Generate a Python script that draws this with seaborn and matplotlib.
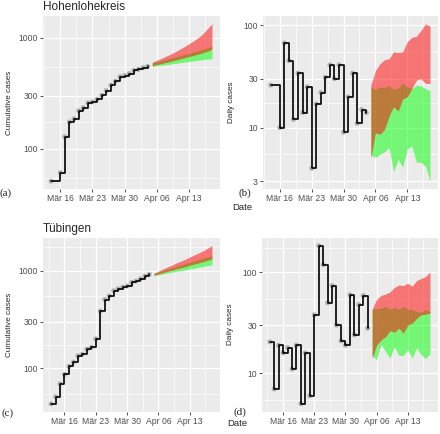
import numpy as np
import pandas as pd
import seaborn as sns
import matplotlib.pyplot as plt

# observed data -------------------------------------------------------------
hohen_dates = ['2020-03-14'] + [f'2020-03-{d}' for d in range(16, 32)] + [f'2020-04-0{d}' for d in range(1, 5)]
hohen_cum = [51, 61, 128, 174, 186, 220, 234, 259, 264, 279, 302, 334, 374, 405, 445, 455, 475, 507, 518, 537, 552]
hohen_daily = [26, 10, 67, 45, 12, 34, 14, 25, 4, 17, 22, 31, 41, 30, 41, 9, 20, 34, 11, 15, 14]

tueb_dates = [f'2020-03-{d}' for d in range(13, 32)] + [f'2020-04-0{d}' for d in range(1, 5)]
tueb_cum = [43, 51, 69, 86, 104, 115, 134, 139, 156, 163, 200, 385, 506, 552, 623, 651, 677, 698, 757, 782, 824, 880, 920]
tueb_daily = [20.5, 7, 19, 16, 18, 11, 19, 5, 16, 6, 38, 184, 119, 50, 74, 30, 21, 19, 60, 24, 48, 59, 28]

# projections (Apr 05 - Apr 18) -----------------------------------------------
proj_dates = [f'2020-04-{d:02d}' for d in range(5, 19)]

hohen_cum_red_lo = [560, 572, 585, 598, 612, 627, 642, 658, 675, 692, 710, 730, 755, 785]
hohen_cum_red_hi = [600, 625, 650, 680, 710, 745, 785, 830, 880, 935, 1000, 1080, 1200, 1330]
hohen_cum_green_lo = [550, 556, 563, 570, 578, 586, 594, 602, 610, 618, 626, 634, 640, 647]
hohen_cum_green_hi = [590, 605, 620, 636, 652, 668, 685, 703, 722, 742, 763, 787, 812, 840]

hohen_daily_red_lo = [5.0, 8.9, 8.6, 9.6, 13, 16, 14.5, 19, 20, 24, 29, 30, 27, 27]
hohen_daily_red_hi = [26, 36, 42, 46, 47, 55, 54, 55, 69, 76, 78, 89, 103, 98]
hohen_daily_green_lo = [5.4, 5.1, 5.5, 5.8, 6.4, 3.7, 4.9, 4.1, 6.2, 6.6, 4.6, 4.6, 4.2, 3.0]
hohen_daily_green_hi = [25, 23.5, 25, 24.5, 25.5, 23.5, 24.5, 27, 25, 24, 26, 25.5, 24, 23]

tueb_cum_red_lo = [900, 925, 955, 985, 1010, 1040, 1070, 1100, 1135, 1170, 1200, 1240, 1280, 1320]
tueb_cum_red_hi = [940, 990, 1040, 1090, 1140, 1200, 1250, 1310, 1380, 1450, 1520, 1600, 1700, 1810]
tueb_cum_green_lo = [890, 905, 925, 945, 965, 985, 1000, 1020, 1040, 1060, 1085, 1105, 1130, 1150]
tueb_cum_green_hi = [940, 970, 1000, 1035, 1070, 1105, 1140, 1180, 1220, 1260, 1300, 1340, 1385, 1430]

tueb_daily_red_lo = [14, 19, 21.5, 23, 26.5, 25.5, 28, 25, 30, 31.5, 35, 38, 38.5, 39.5]
tueb_daily_red_hi = [43, 54, 59, 61, 64, 71, 75, 74, 78, 73, 83, 87, 91, 101]
tueb_daily_green_lo = [15, 13.7, 19.5, 16.5, 14.2, 18.5, 15.1, 15.1, 17.2, 14.2, 17.8, 15.3, 14, 15.6]
tueb_daily_green_hi = [43, 44, 44, 46, 43, 45, 43, 46, 43, 43, 41, 40.5, 43, 41]

tick_dates = ['2020-03-16', '2020-03-23', '2020-03-30', '2020-04-06', '2020-04-13']
tick_labels = ['Mär 16', 'Mär 23', 'Mär 30', 'Apr 06', 'Apr 13']
minor_dates = ['2020-03-12 12:00', '2020-03-19 12:00', '2020-03-26 12:00',
               '2020-04-02 12:00', '2020-04-09 12:00', '2020-04-16 12:00']

sns.set_theme(style='darkgrid', rc={
    'axes.facecolor': '#EBEBEB',
    'grid.color': 'white',
    'axes.edgecolor': '#EBEBEB',
    'axes.linewidth': 0,
})
plt.rcParams['font.family'] = ['Liberation Sans', 'DejaVu Sans']

fig = plt.figure(figsize=(4.4, 4.34), dpi=100)
W, H = 440, 434


def px_axes(l, t, r, b):
    return fig.add_axes([l / W, 1 - b / H, (r - l) / W, (b - t) / H])


def draw_panel(ax, dates, values, glo, ghi, rlo, rhi, yticks, yminor, ylabel, xlabel):
    d = pd.to_datetime(dates)
    p = pd.to_datetime(proj_dates)
    ax.fill_between(p, glo, ghi, color='#00FF00', alpha=0.5, lw=0, zorder=2)
    ax.fill_between(p, rlo, rhi, color='#FF0000', alpha=0.5, lw=0, zorder=2)
    sns.scatterplot(x=d, y=values, color='#A8A8A8', s=13, edgecolor='none', alpha=0.85, ax=ax, zorder=3)
    sns.lineplot(x=d, y=values, drawstyle='steps-post', color='black', lw=1.2, ax=ax, zorder=4)
    ax.set_yscale('log')

    # ggplot-style 5% expansion
    x0, x1 = d.min(), p.max()
    span = x1 - x0
    ax.set_xlim(x0 - 0.05 * span, x1 + 0.05 * span)
    allv = np.concatenate([values, glo, ghi, rlo, rhi])
    lmin, lmax = np.log10(allv.min()), np.log10(allv.max())
    pad = 0.05 * (lmax - lmin)

    ax.set_xticks(pd.to_datetime(tick_dates))
    ax.set_xticklabels(tick_labels)
    ax.set_xticks(pd.to_datetime(minor_dates), minor=True)
    ax.set_yticks(yticks)
    ax.set_yticklabels([str(v) for v in yticks])
    ax.set_yticks(yminor, minor=True)
    ax.yaxis.set_minor_formatter(plt.NullFormatter())
    ax.set_ylim(10 ** (lmin - pad), 10 ** (lmax + pad))

    ax.grid(which='major', color='white', lw=0.9)
    ax.grid(which='minor', color='white', lw=0.45)
    ax.tick_params(which='major', length=2, width=0.6, color='#333333', pad=1.5,
                   labelsize=6.2, labelcolor='#4D4D4D', bottom=True, left=True)
    ax.tick_params(which='minor', length=0)
    for s in ax.spines.values():
        s.set_visible(False)
    ax.set_xlabel('')
    ax.set_ylabel(ylabel, fontsize=5.9)
    ax.yaxis.set_label_coords(xlabel, 0.5)


cum_ticks = [100, 300, 1000]
cum_minor = [54.8, 173, 548, 1732]
day_minor = [1.73, 5.48, 17.3, 54.8, 173]

ax_a = px_axes(43, 16, 220, 189)
draw_panel(ax_a, hohen_dates, hohen_cum, hohen_cum_green_lo, hohen_cum_green_hi,
           hohen_cum_red_lo, hohen_cum_red_hi, cum_ticks, cum_minor, 'Cumulative cases', -0.17)

ax_b = px_axes(262.7, 16, 438, 189)
draw_panel(ax_b, hohen_dates, hohen_daily, hohen_daily_green_lo, hohen_daily_green_hi,
           hohen_daily_red_lo, hohen_daily_red_hi, [3, 10, 30, 100], day_minor, 'Daily cases', -0.16)

ax_c = px_axes(43, 237.7, 220, 411.7)
draw_panel(ax_c, tueb_dates, tueb_cum, tueb_cum_green_lo, tueb_cum_green_hi,
           tueb_cum_red_lo, tueb_cum_red_hi, cum_ticks, cum_minor, 'Cumulative cases', -0.17)

ax_d = px_axes(261.7, 237.7, 438, 411.7)
draw_panel(ax_d, tueb_dates, tueb_daily, tueb_daily_green_lo, tueb_daily_green_hi,
           tueb_daily_red_lo, tueb_daily_red_hi, [10, 30, 100], day_minor, 'Daily cases', -0.155)

# titles and panel labels
fig.text(43 / W, 1 - 10 / H, 'Hohenlohekreis', fontsize=8.5, va='baseline', ha='left')
fig.text(43 / W, 1 - 232 / H, 'Tübingen', fontsize=8.5, va='baseline', ha='left')

serif = dict(family=['Liberation Serif', 'DejaVu Serif'], fontsize=8, va='center')
fig.text(0 / W, 1 - 193 / H, '(a)', ha='left', **serif)
fig.text(244.5 / W, 1 - 193 / H, '(b)', ha='center', **serif)
fig.text(1 / W, 1 - 413 / H, '(c)', ha='left', **serif)
fig.text(239.5 / W, 1 - 412 / H, '(d)', ha='center', **serif)
fig.text(242 / W, 1 - 208 / H, 'Date', ha='center', va='center', fontsize=6.8)
fig.text(237 / W, 1 - 423 / H, 'Date', ha='center', va='center', fontsize=6.8)

fig.savefig('out.png', dpi=100, facecolor='white')
